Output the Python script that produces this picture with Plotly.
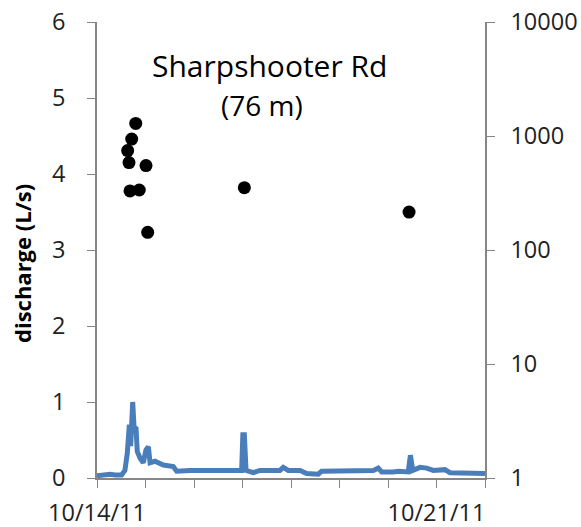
import plotly.graph_objects as go

# Discharge time series (left axis, L/s)
flow_time = [
    "2011-10-14 00:00", "2011-10-14 06:30", "2011-10-14 09:00", "2011-10-14 12:10",
    "2011-10-14 13:50", "2011-10-14 15:00", "2011-10-14 16:00", "2011-10-14 16:40",
    "2011-10-14 17:40", "2011-10-14 18:20", "2011-10-14 19:20", "2011-10-14 19:55",
    "2011-10-14 21:20", "2011-10-14 22:55", "2011-10-15 00:15", "2011-10-15 01:25",
    "2011-10-15 02:15", "2011-10-15 04:40", "2011-10-15 08:50", "2011-10-15 13:45",
    "2011-10-15 15:25", "2011-10-15 22:00", "2011-10-16 23:35", "2011-10-17 00:10",
    "2011-10-17 00:55", "2011-10-17 01:45", "2011-10-17 05:20", "2011-10-17 08:40",
    "2011-10-17 18:30", "2011-10-17 20:10", "2011-10-17 22:40", "2011-10-18 04:30",
    "2011-10-18 07:45", "2011-10-18 13:30", "2011-10-18 15:10", "2011-10-19 16:45",
    "2011-10-19 19:10", "2011-10-19 20:55", "2011-10-20 02:35", "2011-10-20 05:05",
    "2011-10-20 10:00", "2011-10-20 10:35", "2011-10-20 11:05", "2011-10-20 12:15",
    "2011-10-20 15:50", "2011-10-20 19:10", "2011-10-20 22:25", "2011-10-21 04:10",
    "2011-10-21 06:40", "2011-10-22 00:00",
]
flow_value = [
    0.03, 0.05, 0.04, 0.04,
    0.10, 0.33, 0.70, 0.42,
    1.00, 0.67, 0.65, 0.35,
    0.26, 0.20, 0.37, 0.41,
    0.20, 0.22, 0.17, 0.15,
    0.09, 0.10, 0.10, 0.57,
    0.57, 0.10, 0.07, 0.10,
    0.10, 0.14, 0.10, 0.10,
    0.06, 0.05, 0.09, 0.10,
    0.13, 0.08, 0.08, 0.09,
    0.08, 0.30, 0.30, 0.10,
    0.14, 0.13, 0.10, 0.11,
    0.07, 0.06,
]

# Sample points (right log axis)
sample_time = [
    "2011-10-14 19:10", "2011-10-14 17:10", "2011-10-14 15:10", "2011-10-14 15:50",
    "2011-10-15 00:15", "2011-10-14 16:20", "2011-10-14 20:55", "2011-10-15 01:05",
    "2011-10-17 00:55", "2011-10-20 10:25",
]
sample_value = [1290, 940, 745, 585, 550, 330, 336, 143, 352, 215]

tick_days = ["2011-10-14", "2011-10-15", "2011-10-16", "2011-10-17", "2011-10-18",
             "2011-10-19", "2011-10-20", "2011-10-21", "2011-10-22"]
tick_text = ["10/14/11", "", "", "", "", "", "", "10/21/11", ""]

left_ticks = [0, 1, 2, 3, 4, 5, 6]
right_ticks = [1, 10, 100, 1000, 10000]

FONT = "Open Sans"
AX = "#868686"
TXT = "#222222"

fig = go.Figure()
fig.add_trace(go.Scatter(
    x=flow_time, y=flow_value, mode="lines",
    line=dict(color="#4A7EBB", width=5), yaxis="y", showlegend=False,
))
fig.add_trace(go.Scatter(
    x=sample_time, y=sample_value, mode="markers",
    marker=dict(color="black", size=13), yaxis="y2", showlegend=False,
))

fig.update_layout(
    width=581, height=527,
    margin=dict(l=97, r=96, t=22, b=49, autoexpand=False),
    paper_bgcolor="white", plot_bgcolor="white",
    font=dict(family=FONT, color=TXT),
    xaxis=dict(
        type="date", range=["2011-10-14", "2011-10-22"],
        tickvals=tick_days, ticktext=tick_text,
        ticks="outside", ticklen=8, tickcolor=AX, tickwidth=1,
        showline=True, linecolor=AX, linewidth=1.5,
        showgrid=False, zeroline=False, automargin=False,
        tickfont=dict(size=23.5, family=FONT, color=TXT),
        ticklabelstandoff=5, ticklabeloverflow="allow",
    ),
    yaxis=dict(
        range=[0, 6], tickvals=left_ticks,
        ticks="outside", ticklen=8, tickcolor=AX,
        showline=True, linecolor=AX, linewidth=1.5,
        showgrid=False, zeroline=False, automargin=False,
        tickfont=dict(size=23.5, family=FONT, color=TXT),
        ticklabelstandoff=17, ticklabeloverflow="allow",
    ),
    yaxis2=dict(
        type="log", range=[0, 4], tickvals=right_ticks,
        ticktext=[str(v) for v in right_ticks],
        overlaying="y", side="right",
        ticks="outside", ticklen=8, tickcolor=AX,
        showline=True, linecolor=AX, linewidth=1.5,
        showgrid=False, zeroline=False, automargin=False,
        tickfont=dict(size=23.5, family=FONT, color=TXT),
        ticklabelstandoff=11, ticklabeloverflow="allow",
    ),
    annotations=[
        dict(text="<b>discharge (L/s)</b>", x=0, y=0.4704, xref="paper", yref="paper",
             xshift=-74.5, textangle=-90, showarrow=False,
             xanchor="center", yanchor="middle",
             font=dict(size=22, family=FONT, color="black")),
        dict(text="Sharpshooter Rd", x=0.4446, y=0.9057, xref="paper", yref="paper",
             xanchor="center", yanchor="middle",
             showarrow=False, font=dict(size=30, family=FONT, color="black")),
        dict(text="(76 m)", x=0.4265, y=0.819, xref="paper", yref="paper",
             xanchor="center", yanchor="middle",
             showarrow=False, font=dict(size=28, family=FONT, color="black")),
    ],
)

# remove the page's default 8px body margin so the figure sits at the window origin
fig.write_html("out.html", config={"displayModeBar": False},
               post_script="document.body.style.margin='0px';")
